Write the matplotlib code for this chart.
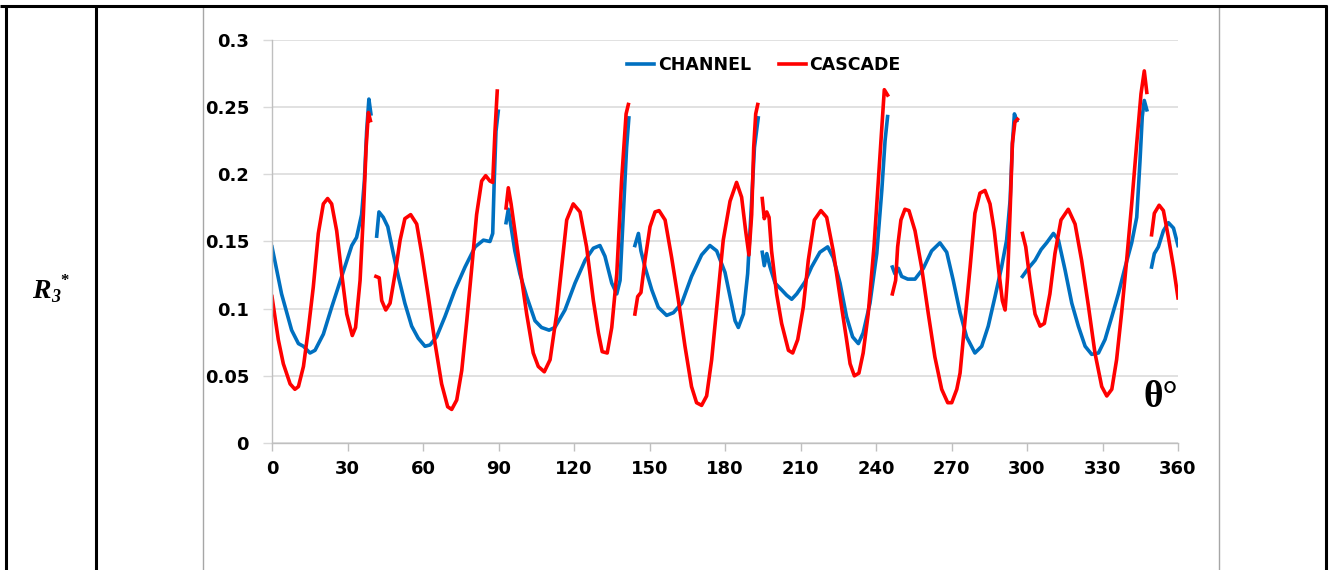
import numpy as np
import matplotlib
matplotlib.use("Agg")
import matplotlib.pyplot as plt
from matplotlib.lines import Line2D

nan = np.nan

# ---------------- data (theta in degrees, R3*) ----------------
channel_theta = [
    0, 3.8, 7.8, 10.5, 12.5, 15.1, 17.1, 20.4, 23.7, 27.7, 31.7, 33.6, 35.6, 36.7, 37.6, 38.5, 39.3, nan,
    41.6, 42.5, 44.2, 46.0, 48.2, 50.2, 52.8, 55.5, 58.1, 60.8, 62.8, 65.4, 68.7, 72.7, 76.7, 80.7, 84.0, 86.6, 87.7, 88.3, 89.0, 89.9, nan,
    93.0, 93.9, 95.0, 96.5, 98.5, 101.2, 104.5, 107.1, 110.1, 112.4, 116.4, 120.4, 124.4, 127.7, 130.3, 132.3, 135.0, 137.0, 138.3, 139.6, 140.9, 141.8, nan,
    144.2, 145.6, 146.6, 148.2, 150.9, 153.5, 156.8, 159.5, 162.8, 166.7, 170.7, 174.0, 176.7, 180.0, 182.0, 184.0, 185.3, 187.3, 189.0, 190.3, 191.7, 193.2, nan,
    194.8, 195.6, 196.6, 197.9, 199.9, 202.5, 204.5, 206.5, 208.5, 211.8, 214.4, 217.7, 220.8, 223.0, 225.7, 228.3, 230.7, 233.0, 234.9, 237.6, 240.3, 242.3, 243.6, 244.6, nan,
    246.5, 247.5, 248.9, 250.2, 252.6, 255.5, 258.8, 262.1, 265.4, 268.1, 270.7, 273.4, 276.0, 279.3, 282.0, 284.6, 287.3, 289.9, 291.9, 293.3, 294.2, 295.0, 295.9, nan,
    298.2, 300.5, 303.2, 305.6, 307.8, 310.5, 312.5, 315.1, 317.8, 320.4, 323.1, 325.7, 328.4, 331.0, 333.7, 336.3, 339.0, 341.6, 343.6, 344.9, 345.8, 346.6, 347.6, nan,
    349.5, 350.6, 352.2, 354.2, 356.2, 358.2, 360.0,
]
channel_r3 = [
    0.146, 0.111, 0.084, 0.074, 0.072, 0.067, 0.069, 0.081, 0.101, 0.124, 0.147, 0.153, 0.170, 0.195, 0.232, 0.256, 0.245, nan,
    0.154, 0.172, 0.168, 0.161, 0.141, 0.124, 0.104, 0.087, 0.078, 0.072, 0.073, 0.079, 0.094, 0.114, 0.131, 0.146, 0.151, 0.150, 0.156, 0.195, 0.232, 0.247, nan,
    0.164, 0.174, 0.161, 0.143, 0.126, 0.109, 0.091, 0.086, 0.084, 0.086, 0.099, 0.119, 0.136, 0.145, 0.147, 0.139, 0.119, 0.111, 0.121, 0.170, 0.220, 0.242, nan,
    0.147, 0.156, 0.143, 0.131, 0.114, 0.101, 0.095, 0.097, 0.104, 0.124, 0.140, 0.147, 0.143, 0.127, 0.109, 0.091, 0.086, 0.096, 0.126, 0.170, 0.220, 0.242, nan,
    0.142, 0.132, 0.141, 0.131, 0.119, 0.114, 0.110, 0.107, 0.111, 0.120, 0.131, 0.142, 0.146, 0.138, 0.119, 0.094, 0.079, 0.074, 0.082, 0.104, 0.141, 0.188, 0.225, 0.243, nan,
    0.131, 0.126, 0.130, 0.124, 0.122, 0.122, 0.130, 0.143, 0.149, 0.142, 0.121, 0.097, 0.079, 0.067, 0.072, 0.087, 0.109, 0.131, 0.151, 0.181, 0.223, 0.245, 0.240, nan,
    0.124, 0.130, 0.136, 0.144, 0.149, 0.156, 0.151, 0.129, 0.104, 0.087, 0.072, 0.066, 0.067, 0.077, 0.094, 0.111, 0.131, 0.149, 0.168, 0.210, 0.243, 0.255, 0.248, nan,
    0.131, 0.141, 0.146, 0.158, 0.164, 0.160, 0.147,
]

cascade_theta = [
    0, 2.5, 4.5, 7.2, 9.1, 10.5, 12.5, 14.4, 16.4, 18.4, 20.4, 22.1, 23.7, 25.7, 27.7, 29.7, 31.9, 33.2, 35.0, 36.3, 37.4, 38.3, 39.1, nan,
    41.3, 42.6, 43.6, 45.2, 46.9, 48.9, 50.9, 52.8, 55.1, 57.5, 59.5, 62.1, 64.8, 67.4, 69.8, 71.4, 73.4, 75.4, 77.4, 79.4, 81.3, 83.3, 84.9, 86.6, 87.7, 88.6, 89.5, nan,
    93.0, 93.9, 95.0, 96.5, 98.5, 101.2, 103.8, 105.8, 108.2, 110.5, 113.1, 115.1, 117.1, 119.7, 122.4, 125.0, 127.7, 129.7, 131.2, 133.2, 135.0, 137.0, 138.9, 140.7, 141.6, nan,
    144.2, 145.3, 146.6, 148.2, 150.2, 152.2, 153.8, 156.2, 158.8, 161.5, 164.1, 166.7, 168.7, 170.7, 172.7, 174.7, 176.7, 179.3, 182.0, 184.6, 186.6, 188.2, 189.5, 190.6, 191.4, 192.2, 193.0, nan,
    194.8, 195.6, 196.6, 197.5, 198.5, 200.5, 202.5, 205.2, 206.9, 208.9, 211.1, 213.1, 215.5, 218.1, 220.4, 223.0, 225.7, 228.3, 229.7, 231.4, 233.2, 234.9, 236.9, 239.2, 240.9, 242.5, 243.3, 244.6, nan,
    246.5, 247.8, 248.6, 249.9, 251.5, 253.1, 255.5, 258.1, 260.8, 263.4, 266.1, 268.5, 270.1, 272.1, 273.4, 275.4, 277.4, 279.3, 281.3, 283.3, 285.3, 287.0, 288.6, 290.2, 291.3, 292.3, 293.3, 294.2, 295.2, 296.2, nan,
    298.2, 299.5, 301.2, 303.2, 305.2, 306.9, 309.1, 311.1, 313.5, 316.4, 319.1, 321.7, 324.4, 327.0, 329.7, 331.7, 333.7, 335.6, 337.6, 339.6, 341.6, 343.6, 345.3, 346.6, 347.6, nan,
    349.5, 350.6, 352.5, 354.2, 356.2, 358.2, 360.0,
]
cascade_r3 = [
    0.109, 0.077, 0.059, 0.044, 0.040, 0.042, 0.057, 0.084, 0.116, 0.156, 0.178, 0.182, 0.178, 0.158, 0.126, 0.096, 0.080, 0.086, 0.121, 0.170, 0.220, 0.246, 0.240, nan,
    0.124, 0.123, 0.106, 0.099, 0.104, 0.126, 0.151, 0.167, 0.170, 0.163, 0.141, 0.109, 0.074, 0.044, 0.027, 0.025, 0.032, 0.054, 0.091, 0.131, 0.170, 0.195, 0.199, 0.195, 0.194, 0.232, 0.262, nan,
    0.175, 0.190, 0.178, 0.158, 0.131, 0.096, 0.067, 0.057, 0.053, 0.062, 0.096, 0.131, 0.166, 0.178, 0.172, 0.146, 0.106, 0.082, 0.068, 0.067, 0.086, 0.126, 0.195, 0.245, 0.252, nan,
    0.096, 0.109, 0.112, 0.136, 0.161, 0.172, 0.173, 0.166, 0.138, 0.106, 0.072, 0.042, 0.030, 0.028, 0.035, 0.062, 0.101, 0.151, 0.180, 0.194, 0.183, 0.158, 0.140, 0.170, 0.220, 0.245, 0.252, nan,
    0.182, 0.167, 0.172, 0.168, 0.143, 0.111, 0.089, 0.069, 0.067, 0.077, 0.101, 0.136, 0.166, 0.173, 0.168, 0.143, 0.109, 0.077, 0.059, 0.050, 0.052, 0.067, 0.096, 0.146, 0.195, 0.240, 0.263, 0.259, nan,
    0.111, 0.121, 0.146, 0.166, 0.174, 0.173, 0.158, 0.131, 0.096, 0.064, 0.040, 0.030, 0.030, 0.040, 0.052, 0.092, 0.131, 0.171, 0.186, 0.188, 0.178, 0.158, 0.131, 0.106, 0.099, 0.124, 0.173, 0.223, 0.239, 0.241, nan,
    0.156, 0.146, 0.121, 0.096, 0.087, 0.089, 0.111, 0.141, 0.166, 0.174, 0.163, 0.136, 0.102, 0.067, 0.042, 0.035, 0.040, 0.062, 0.097, 0.136, 0.178, 0.223, 0.260, 0.277, 0.261, nan,
    0.155, 0.171, 0.177, 0.173, 0.153, 0.131, 0.108,
]

x_ticks = [0, 30, 60, 90, 120, 150, 180, 210, 240, 270, 300, 330, 360]
y_ticks = [0, 0.05, 0.1, 0.15, 0.2, 0.25, 0.3]
y_tick_labels = ["0", "0.05", "0.1", "0.15", "0.2", "0.25", "0.3"]
series_names = ["CHANNEL", "CASCADE"]

# ---------------- figure ----------------
W, H = 1332, 570
fig = plt.figure(figsize=(W / 100, H / 100), dpi=100)
fig.patch.set_facecolor("white")

def px_line(x0, y0, x1, y1, color, lw):
    fig.add_artist(Line2D([x0 / W, x1 / W], [1 - y0 / H, 1 - y1 / H],
                          transform=fig.transFigure, color=color, lw=lw,
                          solid_capstyle="butt"))

# chart frame (grey)
px_line(203, 6, 203, H, "#a6a6a6", 1.0)
px_line(1219, 6, 1219, H, "#a6a6a6", 1.0)
# table borders (black)
px_line(0, 6, 1327, 6, "black", 2.2)
px_line(6, 5, 6, H, "black", 2.2)
px_line(96, 5, 96, H, "black", 2.2)
px_line(1326, 5, 1326, H, "black", 2.2)

ax_l, ax_r, ax_t, ax_b = 272, 1178, 40, 443
ax = fig.add_axes([ax_l / W, 1 - ax_b / H, (ax_r - ax_l) / W, (ax_b - ax_t) / H])

ax.plot(channel_theta, channel_r3, color="#0070C0", lw=2.6, label=series_names[0],
        solid_joinstyle="round")
ax.plot(cascade_theta, cascade_r3, color="#FF0000", lw=2.6, label=series_names[1],
        solid_joinstyle="round")

ax.set_xlim(0, 360)
ax.set_ylim(0, 0.3)
ax.set_xticks(x_ticks)
ax.set_xticklabels([str(t) for t in x_ticks])
ax.set_yticks(y_ticks)
ax.set_yticklabels(y_tick_labels)

ax.grid(axis="y", color="#d9d9d9", lw=1.1)
ax.set_axisbelow(True)
for s in ["top", "right"]:
    ax.spines[s].set_visible(False)
for s in ["left", "bottom"]:
    ax.spines[s].set_color("#bfbfbf")
    ax.spines[s].set_linewidth(1.0)

ax.tick_params(axis="x", direction="out", length=5.5, width=1.0, color="#bfbfbf", pad=7)
ax.tick_params(axis="y", direction="out", length=6.5, width=1.0, color="#d9d9d9", pad=10)
for lab in ax.get_xticklabels() + ax.get_yticklabels():
    lab.set_fontfamily("DejaVu Sans")
    lab.set_fontweight("bold")
    lab.set_fontsize(13)
    lab.set_color("black")

leg = ax.legend(loc="center", bbox_to_anchor=(0.543, 0.938), ncol=2, frameon=False,
                handlelength=1.55, handletextpad=0.2, columnspacing=1.6,
                prop={"family": "DejaVu Sans", "weight": "bold", "size": 12.5})

ax.text(360, 0.034, "θ°", ha="right", va="center", fontsize=27,
        fontfamily="Liberation Serif", fontweight="bold")

# row label R3*
fig.text(32 / W, 1 - 298.5 / H, "R", fontsize=20, fontfamily="Liberation Serif",
         fontweight="bold", fontstyle="italic", ha="left", va="baseline")
fig.text(51 / W, 1 - 302 / H, "3", fontsize=13, fontfamily="Liberation Serif",
         fontweight="bold", fontstyle="italic", ha="left", va="baseline")
fig.text(60 / W, 1 - 285 / H, "*", fontsize=12, fontfamily="Liberation Serif",
         fontweight="bold", ha="left", va="baseline")

fig.savefig("out.png", dpi=100, facecolor="white")
